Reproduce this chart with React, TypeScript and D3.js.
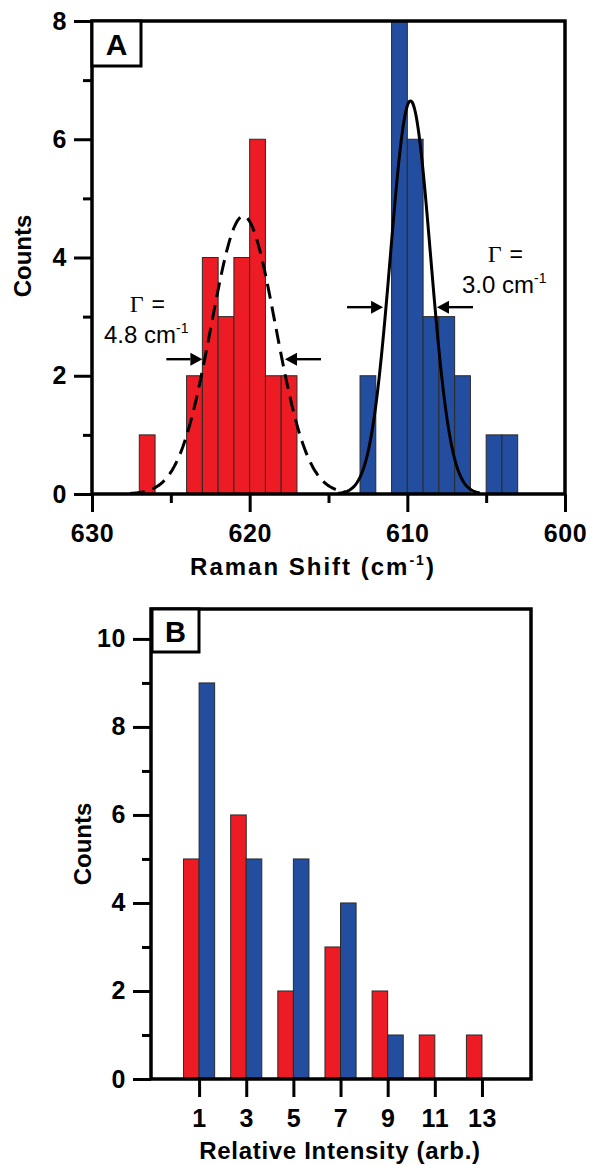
import React, { useEffect, useRef } from "react";
import * as d3 from "d3";

// ---------- Panel A data (Raman shift histogram, 1 cm-1 bins) ----------
const redBinCenters = [626.5, 623.5, 622.5, 621.5, 620.5, 619.5, 618.5, 617.5];
const redBinCounts = [1, 2, 4, 3, 4, 6, 2, 2];
const blueBinCenters = [612.5, 610.5, 609.5, 608.5, 607.5, 606.5, 604.5, 603.5];
const blueBinCounts = [2, 8, 6, 3, 3, 2, 1, 1];
const binWidth = 1;

// Gaussian fit parameters [red, blue]
const fitCenters = [620.4, 609.8];
const fitFWHM = [4.8, 3.0];
const fitAmps = [4.7, 6.65];
const fitRanges: [number, number][] = [
  [627.6, 613.8],
  [614.4, 605.4],
];

// FWHM arrows: tip position (cm-1), height (counts), direction (+1 points right on screen)
const arrowTips = [623.0, 617.76, 611.54, 608.12];
const arrowHeights = [2.28, 2.28, 3.16, 3.16];
const arrowDirs = [1, -1, 1, -1];

const aXMajor = [630, 620, 610, 600];
const aXMinor = [625, 615, 605];
const aYMajor = [0, 2, 4, 6, 8];
const aYMinor = [1, 3, 5, 7];

// ---------- Panel B data (relative intensity) ----------
const intensityBins = [1, 3, 5, 7, 9, 11, 13];
const redIntensity = [5, 6, 2, 3, 2, 1, 1];
const blueIntensity = [9, 5, 5, 4, 1, 0, 0];
const bYMajor = [0, 2, 4, 6, 8, 10];
const bYMinor = [1, 3, 5, 7, 9];

const RED = "#ED1C24";
const BLUE = "#234E9F";
const SANS = "'Liberation Sans', Arial, sans-serif";
const SERIF = "'Liberation Serif', 'Times New Roman', serif";

export default function App() {
  const ref = useRef<SVGSVGElement>(null);

  useEffect(() => {
    const svg = d3.select(ref.current);
    svg.selectAll("*").remove();

    const styleAxis = (g: any) => {
      g.attr("font-family", SANS).attr("font-size", 25).attr("font-weight", "bold");
      g.select(".domain").remove();
      g.selectAll(".tick line").attr("stroke", "#000").attr("stroke-width", 3);
      g.selectAll(".tick text").attr("fill", "#000").attr("letter-spacing", 0.6);
    };

    // ================= PANEL A =================
    const xA = d3.scaleLinear().domain([630, 600]).range([92, 565]);
    const yA = d3.scaleLinear().domain([0, 8]).range([494, 21]);
    const gA = svg.append("g");

    const drawBins = (centers: number[], counts: number[], color: string) => {
      gA.append("g")
        .selectAll("rect")
        .data(centers)
        .join("rect")
        .attr("x", (d) => xA(d + binWidth / 2))
        .attr("width", (d) => xA(d - binWidth / 2) - xA(d + binWidth / 2))
        .attr("y", (_d, i) => yA(counts[i]))
        .attr("height", (_d, i) => yA(0) - yA(counts[i]))
        .attr("fill", color)
        .attr("stroke", "#2a2a2a")
        .attr("stroke-width", 1);
    };
    drawBins(redBinCenters, redBinCounts, RED);
    drawBins(blueBinCenters, blueBinCounts, BLUE);

    // Gaussian fits
    fitCenters.forEach((c, k) => {
      const sigma = fitFWHM[k] / (2 * Math.sqrt(2 * Math.log(2)));
      const [a, b] = fitRanges[k];
      const xs = d3.range(0, 201).map((i) => a + ((b - a) * i) / 200);
      const line = d3
        .line<number>()
        .x((x) => xA(x))
        .y((x) => yA(fitAmps[k] * Math.exp(-((x - c) ** 2) / (2 * sigma * sigma))))
        .curve(d3.curveBasis);
      gA.append("path")
        .attr("d", line(xs))
        .attr("fill", "none")
        .attr("stroke", "#000")
        .attr("stroke-width", 3)
        .attr("stroke-dasharray", k === 0 ? "15,8" : null);
    });

    // arrows
    arrowTips.forEach((t, i) => {
      const tx = xA(t);
      const ty = yA(arrowHeights[i]);
      const dir = arrowDirs[i];
      const len = 36;
      const head = 12;
      gA.append("line")
        .attr("x1", tx - dir * len)
        .attr("x2", tx - dir * head)
        .attr("y1", ty)
        .attr("y2", ty)
        .attr("stroke", "#000")
        .attr("stroke-width", 2.4);
      gA.append("path")
        .attr("d", `M${tx},${ty} L${tx - dir * head},${ty - 6.5} L${tx - dir * head},${ty + 6.5} Z`)
        .attr("fill", "#000");
    });

    // annotations
    const addGamma = (x: number, y: number) => {
      const t = gA.append("text").attr("x", x).attr("y", y).attr("text-anchor", "middle").attr("fill", "#000");
      t.append("tspan").attr("font-family", SERIF).attr("font-size", 24).text("Γ");
      t.append("tspan").attr("font-family", SANS).attr("font-size", 23).attr("letter-spacing", 1.5).text(" =");
    };
    const addWidth = (x: number, y: number, val: string) => {
      const t = gA.append("text").attr("x", x).attr("y", y).attr("font-family", SANS).attr("font-size", 24).attr("fill", "#000");
      t.append("tspan").text(val + " cm");
      t.append("tspan").attr("font-size", 14).attr("dy", -10).text("-1");
    };
    addGamma(148, 312);
    addWidth(104, 343, "4.8");
    addGamma(506, 262);
    addWidth(462, 293, "3.0");

    // axes A
    const axA = gA.append("g");
    axA.append("g").attr("transform", `translate(92,0)`)
      .call(d3.axisLeft(yA).tickValues(aYMinor).tickSize(9).tickFormat(() => ""))
      .call(styleAxis);
    axA.append("g").attr("transform", `translate(92,0)`)
      .call(d3.axisLeft(yA).tickValues(aYMajor).tickSize(18).tickPadding(7).tickFormat(d3.format("d")))
      .call(styleAxis);
    axA.append("g").attr("transform", `translate(0,494)`)
      .call(d3.axisBottom(xA).tickValues(aXMinor).tickSize(9).tickFormat(() => ""))
      .call(styleAxis);
    axA.append("g").attr("transform", `translate(0,494)`)
      .call(d3.axisBottom(xA).tickValues(aXMajor).tickSize(18).tickPadding(12).tickFormat(d3.format("d")))
      .call(styleAxis);

    gA.append("rect")
      .attr("x", 92).attr("y", 21).attr("width", 565 - 92).attr("height", 494 - 21)
      .attr("fill", "none").attr("stroke", "#000").attr("stroke-width", 3.5);

    gA.append("rect").attr("x", 92).attr("y", 21).attr("width", 49).attr("height", 45)
      .attr("fill", "#fff").attr("stroke", "#000").attr("stroke-width", 3);
    gA.append("text").attr("x", 116.5).attr("y", 55).attr("text-anchor", "middle")
      .attr("font-family", SANS).attr("font-weight", "bold").attr("font-size", 30).text("A");

    gA.append("text").attr("transform", "translate(31,256) rotate(-90)").attr("text-anchor", "middle")
      .attr("font-family", SANS).attr("font-weight", "bold").attr("font-size", 24).text("Counts");

    const tA = gA.append("text").attr("x", 313).attr("y", 575).attr("text-anchor", "middle")
      .attr("font-family", SANS).attr("font-weight", "bold").attr("font-size", 24).attr("letter-spacing", 2);
    tA.append("tspan").text("Raman Shift (cm");
    tA.append("tspan").attr("font-size", 14).attr("dy", -10).text("-1");
    tA.append("tspan").attr("dy", 10).text(")");

    // ================= PANEL B =================
    const xB = d3.scaleLinear().domain([-1.04, 15.08]).range([151, 531]);
    const yB = d3.scaleLinear().domain([0, 10.68]).range([1079, 609]);
    const gB = svg.append("g");
    const bw = 0.66;

    gB.append("g").selectAll("rect").data(intensityBins).join("rect")
      .attr("x", (d) => xB(d - bw)).attr("width", (d) => xB(d) - xB(d - bw))
      .attr("y", (_d, i) => yB(redIntensity[i])).attr("height", (_d, i) => yB(0) - yB(redIntensity[i]))
      .attr("fill", RED).attr("stroke", "#2a2a2a").attr("stroke-width", 1);
    gB.append("g").selectAll("rect").data(intensityBins.filter((_d, i) => blueIntensity[i] > 0)).join("rect")
      .attr("x", (d) => xB(d)).attr("width", (d) => xB(d + bw) - xB(d))
      .attr("y", (d) => yB(blueIntensity[intensityBins.indexOf(d)]))
      .attr("height", (d) => yB(0) - yB(blueIntensity[intensityBins.indexOf(d)]))
      .attr("fill", BLUE).attr("stroke", "#2a2a2a").attr("stroke-width", 1);

    gB.append("g").attr("transform", `translate(151,0)`)
      .call(d3.axisLeft(yB).tickValues(bYMinor).tickSize(9).tickFormat(() => ""))
      .call(styleAxis);
    gB.append("g").attr("transform", `translate(151,0)`)
      .call(d3.axisLeft(yB).tickValues(bYMajor).tickSize(18).tickPadding(7).tickFormat(d3.format("d")))
      .call(styleAxis);
    gB.append("g").attr("transform", `translate(0,1079)`)
      .call(d3.axisBottom(xB).tickValues(intensityBins).tickSize(18).tickPadding(12).tickFormat(d3.format("d")))
      .call(styleAxis);

    gB.append("rect")
      .attr("x", 151).attr("y", 609).attr("width", 531 - 151).attr("height", 1079 - 609)
      .attr("fill", "none").attr("stroke", "#000").attr("stroke-width", 3.5);

    gB.append("rect").attr("x", 152).attr("y", 609).attr("width", 47).attr("height", 43)
      .attr("fill", "#fff").attr("stroke", "#000").attr("stroke-width", 3);
    gB.append("text").attr("x", 175.5).attr("y", 642).attr("text-anchor", "middle")
      .attr("font-family", SANS).attr("font-weight", "bold").attr("font-size", 29).text("B");

    gB.append("text").attr("transform", "translate(91,844) rotate(-90)").attr("text-anchor", "middle")
      .attr("font-family", SANS).attr("font-weight", "bold").attr("font-size", 24).text("Counts");

    gB.append("text").attr("x", 340).attr("y", 1159).attr("text-anchor", "middle")
      .attr("font-family", SANS).attr("font-weight", "bold").attr("font-size", 24).attr("letter-spacing", 0.7)
      .text("Relative Intensity (arb.)");
  }, []);

  return (
    <svg
      ref={ref}
      width={590}
      height={1165}
      style={{ position: "absolute", left: 0, top: 0, background: "#fff" }}
    />
  );
}
